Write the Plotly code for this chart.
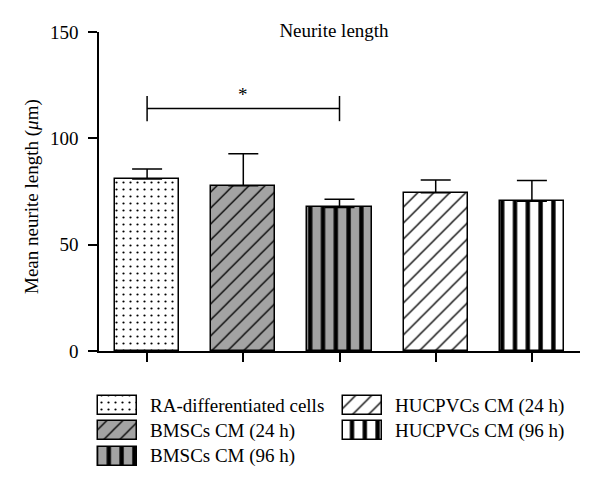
import plotly.graph_objects as go

# data
categories = ["RA-differentiated cells", "BMSCs CM (24 h)", "BMSCs CM (96 h)",
              "HUCPVCs CM (24 h)", "HUCPVCs CM (96 h)"]
mean_length = [80.9, 77.7, 67.5, 74.4, 70.4]
sd_upper = [4.7, 15.1, 3.8, 6.0, 9.8]
y_ticks = [0, 50, 100, 150]
sig_pair = [0, 2]
sig_level = 114
sig_label = "*"

# fill style of each group
pat_shape = [".", "/", "|", "/", "|"]
pat_bg = ["white", "#a3a3a3", "#a3a3a3", "white", "white"]
pat_size = [7, 11.3, 12.8, 11.3, 12.8]
pat_solid = [0.08, 0.12, 0.34, 0.12, 0.34]

W, H = 600, 487
FONT = "Liberation Serif"
FS = 19

# marker colour kept scalar so the pattern colours are not overridden
pattern = dict(shape=pat_shape, bgcolor=pat_bg, fgcolor="black", fgopacity=1,
               size=pat_size, solidity=pat_solid, fillmode="replace")

fig = go.Figure()

# main bars with upper error bars only
fig.add_trace(go.Bar(
    x=list(range(len(categories))), y=mean_length, width=0.667,
    marker=dict(color="white", pattern=pattern, line=dict(color="black", width=1.5)),
    error_y=dict(type="data", symmetric=False, array=sd_upper,
                 arrayminus=[0] * len(sd_upper), color="black", thickness=1.5, width=15),
    showlegend=False,
))

# significance bracket
fig.add_trace(go.Scatter(
    x=sig_pair, y=[sig_level] * 2, mode="lines+markers",
    line=dict(color="black", width=1.5),
    marker=dict(symbol="line-ns-open", size=18, line=dict(color="black", width=1.5)),
    showlegend=False, hoverinfo="skip",
))
fig.add_annotation(x=sum(sig_pair) / 2, y=sig_level, text=sig_label, showarrow=False,
                   yshift=14, font=dict(family=FONT, size=FS, color="black"))

# hand-made legend drawn on a pixel-scaled overlay axis
sw_x, sw_y, txt_x = [], [], []
for i in range(len(categories)):
    col, row = (0, i) if i < 3 else (1, i - 3)
    sw_x.append([98, 343][col])
    sw_y.append(405.5 + 25.3 * row)
    txt_x.append([98, 343][col] + 50)

fig.add_trace(go.Bar(
    orientation="h", x=[39] * len(categories), base=sw_x, y=sw_y, width=19,
    xaxis="x2", yaxis="y2",
    marker=dict(color="white", pattern=pattern, line=dict(color="black", width=1.5)),
    showlegend=False, hoverinfo="skip",
))
for name, tx, ty in zip(categories, txt_x, sw_y):
    fig.add_annotation(x=tx, y=ty, xref="x2", yref="y2", text=name, showarrow=False,
                       xanchor="left", yanchor="middle",
                       font=dict(family=FONT, size=FS, color="black"))

# y axis title
fig.add_annotation(x=32 / W, y=(H - 197) / H, xref="paper", yref="paper",
                   xanchor="center", yanchor="middle",
                   text="Mean neurite length (<i>μ</i>m)", textangle=-90, showarrow=False,
                   font=dict(family=FONT, size=FS, color="black"))

axis_style = dict(showline=True, linecolor="black", linewidth=1.5, ticks="outside",
                  tickcolor="black", tickwidth=1.5, ticklen=9, showgrid=False,
                  zeroline=False, automargin=False)

fig.update_layout(
    width=W, height=H,
    margin=dict(l=0, r=0, t=0, b=0),
    paper_bgcolor="white", plot_bgcolor="rgba(0,0,0,0)",
    font=dict(family=FONT, size=FS, color="black"),
    title=dict(text="Neurite length", x=334 / W, y=1 - 30 / H, xanchor="center",
               yanchor="middle", font=dict(family=FONT, size=FS, color="black")),
    xaxis=dict(domain=[99 / W, 580 / W], range=[-0.5, 4.5], tickvals=list(range(5)),
               showticklabels=False, **axis_style),
    yaxis=dict(domain=[(H - 351) / H, (H - 32) / H], range=[0, 150], tickvals=y_ticks,
               tickfont=dict(family=FONT, size=FS), ticklabelstandoff=6, **axis_style),
    xaxis2=dict(domain=[0, 1], range=[0, W], visible=False, anchor="y2"),
    yaxis2=dict(domain=[0, 1], range=[H, 0], visible=False, anchor="x2"),
    bargap=0,
)

fig.write_html("out.html", config={"displayModeBar": False},
               post_script="document.body.style.margin='0';")
